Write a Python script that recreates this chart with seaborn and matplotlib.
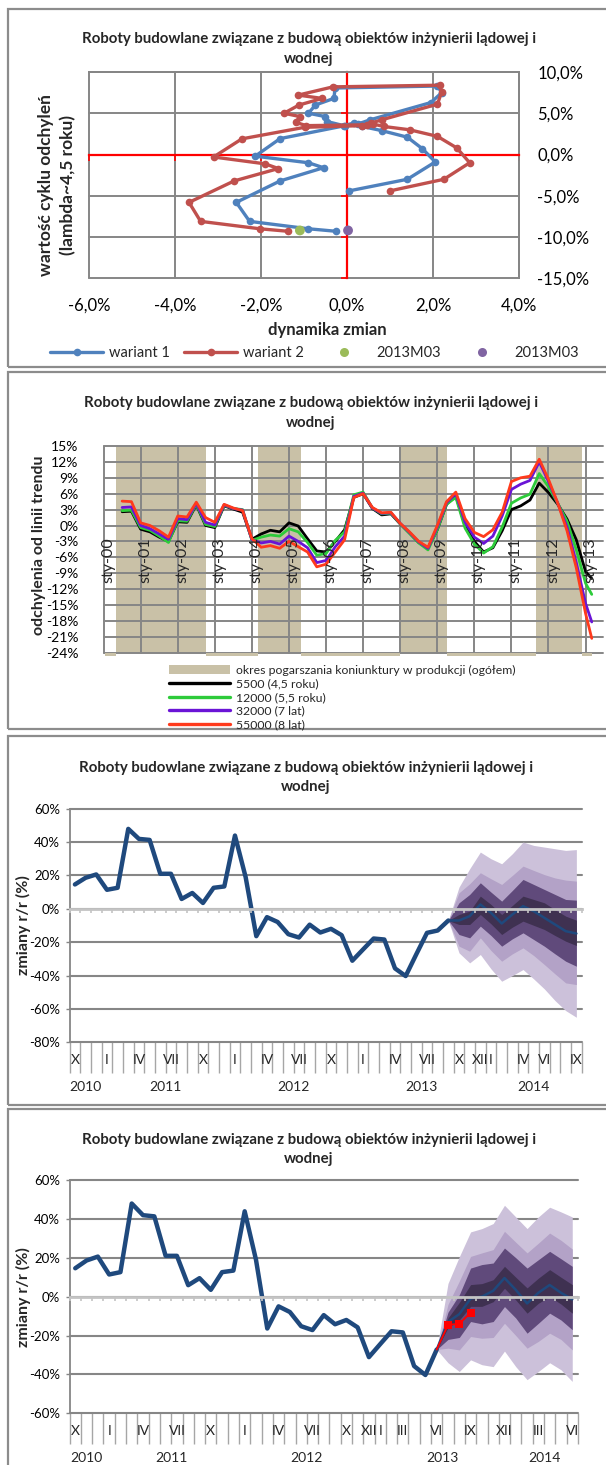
import numpy as np
import pandas as pd
import matplotlib
matplotlib.use("Agg")
import matplotlib.pyplot as plt
import matplotlib.transforms as mtransforms
from matplotlib.patches import Rectangle, Patch
from matplotlib.lines import Line2D
import seaborn as sns

# ------------------------------------------------------------------ data
TITLE_1 = "Roboty budowlane związane z budową obiektów inżynierii lądowej i"
TITLE_2 = "wodnej"

# Panel 1 - cycle chart (x: dynamika zmian %, y: wartość cyklu %)
w1_x = [0.05, 1.40, 2.05, 1.75, 1.40, 0.80, 0.35, 0.15, -0.08, -0.47, -0.51, -0.90,
        -0.74, -0.31, -0.28, 2.10, 2.20, 1.95, 0.53, 0.25, -0.05, -1.56, -2.14,
        -0.90, -0.55, -1.56, -2.58, -2.27, -0.90, -0.26]
w1_y = [-4.40, -3.00, -0.90, 0.70, 2.10, 2.90, 3.40, 3.80, 3.50, 4.00, 4.60, 5.00,
        6.00, 6.80, 8.06, 8.30, 7.50, 6.30, 4.20, 3.70, 3.50, 1.93, -0.20,
        -1.00, -1.60, -3.20, -5.80, -8.10, -9.00, -9.30]
w2_x = [1.00, 2.25, 2.85, 2.55, 2.10, 1.45, 0.85, 0.60, 0.45, -0.95, -1.20, -1.10,
        -1.47, -1.12, -0.58, -1.14, -0.33, 2.15, 2.20, 2.10, 0.80, 0.55, 0.35,
        -0.99, -2.45, -3.11, -1.91, -1.60, -2.63, -3.68, -3.41, -2.03, -1.38]
w2_y = [-4.40, -3.00, -1.00, 0.80, 2.20, 3.00, 3.40, 3.70, 3.60, 3.50, 3.90, 4.60,
        5.00, 6.00, 6.80, 7.20, 8.20, 8.40, 7.60, 6.10, 4.20, 3.80, 3.50,
        3.30, 1.90, -0.30, -1.13, -1.70, -3.20, -5.80, -8.10, -9.00, -9.30]
pt_green_x, pt_green_y = [-1.10], [-9.20]
pt_purple_x, pt_purple_y = [0.02], [-9.20]
p1_legend = ["wariant 1", "wariant 2", "2013M03", "2013M03"]
p1_xticks = [-6, -4, -2, 0, 2, 4]
p1_xlabels = ["-6,0%", "-4,0%", "-2,0%", "0,0%", "2,0%", "4,0%"]
p1_yticks = [-15, -10, -5, 0, 5, 10]
p1_ylabels = ["-15,0%", "-10,0%", "-5,0%", "0,0%", "5,0%", "10,0%"]

# Panel 2 - deviations from trend (quarterly readings, Jul 2000 .. Mar 2013)
p2_dates = list(pd.date_range("2000-07-01", "2013-01-01", freq="3MS")) + [pd.Timestamp("2013-03-01")]
s5500 = [2.6, 2.7,
         -0.7, -1.2, -2.2, -3.0, 0.7, 0.6, 3.9, 0.0, -0.4, 3.7, 3.1, 2.5,
         -2.6, -1.6, -0.9, -1.2, 0.5, -0.1, -2.5, -4.8, -5.0, -3.0, -0.8, 5.3,
         6.0, 3.2, 2.0, 2.2, 0.3, -1.4, -3.2, -4.3, -0.8, 4.0, 5.6, 0.0,
         -3.0, -5.0, -4.2, -1.0, 3.0, 3.7, 4.8, 8.0, 6.2, 4.0, 1.2, -2.7,
         -8.7, -10.0]
s12000 = [2.8, 2.9,
          -0.4, -0.9, -2.0, -3.2, 0.9, 0.8, 4.0, 0.2, -0.2, 3.8, 3.2, 3.0,
          -2.8, -2.2, -1.8, -2.0, -0.6, -1.2, -3.2, -5.6, -5.3, -2.8, -1.2, 5.8,
          6.3, 3.3, 2.2, 2.3, 0.3, -1.5, -3.3, -4.6, -0.8, 4.0, 5.3, -0.5,
          -3.5, -5.2, -4.0, -0.3, 4.2, 5.2, 5.9, 9.8, 7.3, 4.2, 0.8, -4.6,
          -10.9, -13.0]
s32000 = [3.4, 3.5,
          0.0, -0.6, -1.6, -2.6, 1.3, 1.1, 4.2, 0.6, 0.1, 3.9, 3.2, 2.9,
          -2.7, -3.3, -3.0, -3.5, -2.0, -3.0, -4.2, -7.0, -6.6, -4.0, -2.0, 5.5,
          6.1, 3.3, 2.3, 2.4, 0.4, -1.3, -3.1, -4.3, -0.3, 4.3, 6.0, 0.6,
          -2.2, -3.4, -2.0, 1.8, 6.8, 7.8, 8.5, 12.0, 8.3, 4.2, -0.3, -7.0,
          -14.7, -18.2]
s55000 = [4.6, 4.5,
          0.5, 0.0, -1.0, -2.2, 1.8, 1.6, 4.4, 1.5, 0.6, 4.0, 3.3, 2.8,
          -2.5, -4.1, -3.8, -4.3, -3.0, -4.0, -5.0, -7.8, -7.3, -5.0, -2.7, 5.3,
          6.0, 3.4, 2.4, 2.5, 0.4, -1.2, -3.0, -4.1, 0.0, 4.5, 6.3, 1.3,
          -1.3, -2.1, -0.8, 2.5, 8.3, 9.0, 9.3, 12.5, 8.7, 4.2, -1.0, -8.0,
          -16.6, -21.3]
p2_names = ["5500 (4,5 roku)", "12000 (5,5 roku)", "32000 (7 lat)", "55000 (8 lat)"]
p2_colors = ["#000000", "#2DCB3A", "#6A14D6", "#FF3A1C"]
p2_shade_label = "okres pogarszania koniunktury w produkcji (ogółem)"
p2_recessions = [("2000-05", "2002-09"), ("2004-03", "2005-04"),
                 ("2008-01", "2009-03"), ("2011-09", "2012-11")]
p2_sty_years = list(range(2000, 2014))
p2_yticks = list(range(-24, 16, 3))

# Panel 3 / 4 - y/y changes with fan chart (months from Oct 2010)
hist_vals = [14.6, 18.6, 20.6, 11.4, 12.6, 47.9, 41.9, 41.3, 21.0, 21.0, 5.9, 9.5,
             3.5, 12.6, 13.4, 43.9, 19.0, -16.4, -5.0, -7.9, -15.2, -17.2, -9.5, -14.2,
             -12.0, -15.8, -31.1, -24.4, -17.8, -18.4, -35.7, -40.3, -27.2, -14.4, -13.0, -7.0]

p3_n_months = 48
p3_fan_start = 35
p3_med  = [-7.0, -7.0, -4.4, 2.6, -2.4, -8.8, -3.4, 1.6, -1.4, -5.4, -9.4, -13.4, -14.8]
p3_d_up = [-7.0, -3.4, -1.4, 7.6, 2.6, -3.4, 2.0, 7.6, 5.6, 3.6, -0.5, -4.4, -6.8]
p3_d_lo = [-7.0, -9.4, -9.4, -3.4, -9.0, -15.4, -11.0, -7.4, -9.9, -12.4, -16.0, -19.4, -22.0]
p3_t_up = [-7.0, 3.6, 8.6, 15.6, 10.0, 4.6, 11.0, 17.6, 14.6, 11.6, 8.6, 5.6, 5.2]
p3_t_lo = [-7.0, -15.4, -17.4, -10.4, -16.0, -22.4, -18.0, -14.4, -18.4, -22.4, -27.0, -31.4, -34.4]
p3_s_up = [-7.0, 9.6, 15.0, 21.6, 18.0, 14.6, 20.0, 25.6, 23.0, 20.5, 18.5, 17.2, 16.6]
p3_s_lo = [-7.0, -22.4, -25.4, -17.4, -25.0, -31.4, -27.0, -23.4, -28.0, -33.4, -39.0, -44.4, -45.4]
p3_o_up = [-7.0, 13.0, 24.0, 34.0, 30.0, 27.0, 33.0, 40.0, 38.0, 37.0, 36.0, 35.0, 35.5]
p3_o_lo = [-7.0, -26.4, -32.4, -27.4, -36.0, -43.4, -40.0, -36.4, -42.0, -48.0, -55.0, -61.0, -65.0]
p3_month_labels = {0: "X", 3: "I", 6: "IV", 9: "VII", 12: "X", 15: "I", 18: "IV", 21: "VII",
                   24: "X", 27: "I", 30: "IV", 33: "VII", 36: "X", 38: "XII", 39: "I",
                   42: "IV", 44: "VI", 47: "IX"}
p3_years = [("2010", 0, 3), ("2011", 3, 15), ("2012", 15, 27), ("2013", 27, 39), ("2014", 39, 48)]

p4_n_months = 45
p4_hist_len = 33
p4_fan_start = 32
p4_med  = [-27.2, -13.0, -9.0, -1.0, 0.0, 3.0, 9.6, 3.5, -3.5, 2.0, 6.0, 2.0, -1.4]
p4_d_up = [-27.2, -11.0, -3.0, 6.2, 6.7, 8.7, 15.6, 10.0, 4.5, 9.5, 13.9, 10.0, 6.2]
p4_d_lo = [-27.2, -16.0, -12.0, -5.0, -5.0, -2.6, 4.3, -1.7, -8.5, -3.4, 0.0, -3.8, -8.5]
p4_t_up = [-27.2, -8.0, 1.0, 14.7, 16.5, 17.3, 25.0, 20.0, 14.7, 19.0, 23.3, 19.5, 15.6]
p4_t_lo = [-27.2, -22.0, -21.0, -12.8, -14.0, -12.8, -5.1, -11.0, -18.8, -13.7, -8.5, -12.0, -17.0]
p4_s_up = [-27.2, -4.0, 8.0, 20.7, 22.5, 24.2, 33.6, 28.0, 22.5, 27.5, 32.7, 29.0, 24.5]
p4_s_lo = [-27.2, -26.5, -27.4, -20.5, -21.4, -21.0, -13.7, -20.0, -26.5, -23.0, -18.8, -22.0, -27.4]
p4_o_up = [-27.2, 6.8, 20.5, 33.3, 35.0, 37.6, 47.0, 41.0, 35.0, 41.0, 46.0, 43.6, 41.0]
p4_o_lo = [-27.2, -34.0, -38.5, -32.5, -35.0, -36.0, -28.0, -36.0, -42.7, -38.5, -34.0, -37.6, -43.6]
p4_actual_months = [32, 33, 34, 35]
p4_actual_vals = [-27.2, -14.5, -14.0, -8.2]
p4_month_labels = {0: "X", 3: "I", 6: "IV", 9: "VII", 12: "X", 15: "I", 18: "IV", 21: "VII",
                   24: "X", 26: "XII", 27: "I", 29: "III", 32: "VI", 35: "IX", 38: "XII",
                   41: "III", 44: "VI"}
p4_years = [("2010", 0, 3), ("2011", 3, 15), ("2012", 15, 27), ("2013", 27, 39), ("2014", 39, 45)]

# ------------------------------------------------------------------ style
sns.set_theme(style="white")
plt.rcParams["font.family"] = ["Lato", "DejaVu Sans"]
plt.rcParams["axes.unicode_minus"] = False

W, H = 606, 1465
fig = plt.figure(figsize=(W / 100, H / 100), dpi=100)
fig.patch.set_facecolor("white")

GRID = "#868686"
BORDER = "#8C8C8C"
SEP = "#A6A6A6"
C_BLUE, C_RED, C_GREEN, C_PURPLE = "#4F81BD", "#C0504D", "#9BBB59", "#8064A2"
C_TAN = "#C9C1A7"
C_NAVY = "#1F497D"
FAN_COLORS = ["#CCC1DA", "#B3A2C7", "#604A7B", "#3F3151"]


def fig_ax(l, t, r, b):
    return fig.add_axes([l / W, 1 - b / H, (r - l) / W, (b - t) / H])


def ftext(x, y, s, **kw):
    return fig.text(x / W, 1 - y / H, s, **kw)


def title(cx, y1, y2):
    ftext(cx, y1, TITLE_1, ha="center", va="center", fontsize=10.8, fontweight="bold")
    ftext(cx, y2, TITLE_2, ha="center", va="center", fontsize=10.8, fontweight="bold")


# panel borders
for (t, b) in [(9, 367), (372, 729), (736, 1105), (1109, 1480)]:
    fig.add_artist(Rectangle((8 / W, 1 - b / H), (W + 30) / W, (b - t) / H,
                             transform=fig.transFigure, fill=False, ec=BORDER, lw=1.6))

# ------------------------------------------------------------------ panel 1
title(309, 39, 59)
ax1 = fig_ax(89.3, 72, 519.1, 278.3)
sns.lineplot(x=w1_x, y=w1_y, sort=False, estimator=None, color=C_BLUE, lw=2.4,
             marker="o", markersize=5.5, markeredgewidth=0, ax=ax1, zorder=3)
sns.lineplot(x=w2_x, y=w2_y, sort=False, estimator=None, color=C_RED, lw=2.4,
             marker="o", markersize=5.5, markeredgewidth=0, ax=ax1, zorder=4)
sns.scatterplot(x=pt_green_x, y=pt_green_y, color=C_GREEN, s=50, edgecolor="none", ax=ax1, zorder=5)
sns.scatterplot(x=pt_purple_x, y=pt_purple_y, color=C_PURPLE, s=50, edgecolor="none", ax=ax1, zorder=5)
ax1.set_xlim(-6, 4)
ax1.set_ylim(-15, 10)
ax1.set_xticks(p1_xticks)
ax1.set_yticks(p1_yticks)
ax1.grid(True, color=GRID, lw=1.4, clip_on=False)
ax1.set_axisbelow(True)
ax1.tick_params(axis="both", which="major", bottom=True, left=True, labelbottom=False, labelleft=False,
                direction="out", length=4, width=1.2, color="#FF0000")
for s in ["left", "bottom"]:
    ax1.spines[s].set_position(("data", 0))
    ax1.spines[s].set_color("#FF0000")
    ax1.spines[s].set_linewidth(1.6)
for s in ["top", "right"]:
    ax1.spines[s].set_color(GRID)
    ax1.spines[s].set_linewidth(1.4)
ax1.set_xlabel("")
ax1.set_ylabel("")
sx1 = ax1.secondary_xaxis("bottom")
sx1.set_xticks(p1_xticks, labels=p1_xlabels)
sx1.tick_params(length=0, pad=14, labelsize=12, colors="#000000")
sx1.spines["bottom"].set_visible(False)
sy1 = ax1.secondary_yaxis("right")
sy1.set_yticks(p1_yticks, labels=p1_ylabels)
sy1.tick_params(length=0, pad=13, labelsize=12, colors="#000000")
sy1.spines["right"].set_visible(False)
ftext(327, 330, "dynamika zmian", ha="center", va="center", fontsize=12, fontweight="bold")
ftext(57, 185, "wartość cyklu odchyleń\n(lambda~4,5 roku)", ha="center", va="center",
      rotation=90, fontsize=12.5, fontweight="bold", linespacing=1.4)
h1 = [Line2D([], [], color=C_BLUE, lw=2.4, marker="o", markersize=5.5, mew=0),
      Line2D([], [], color=C_RED, lw=2.4, marker="o", markersize=5.5, mew=0),
      Line2D([], [], ls="none", marker="o", color=C_GREEN, markersize=6.5, mew=0),
      Line2D([], [], ls="none", marker="o", color=C_PURPLE, markersize=6.5, mew=0)]
fig.legend(h1, p1_legend, loc="center", bbox_to_anchor=(314.5 / W, 1 - 353 / H), ncol=4,
           frameon=False, fontsize=10.5, handlelength=3.6, handletextpad=0.4,
           columnspacing=1.0, borderpad=0, borderaxespad=0, numpoints=1)

# ------------------------------------------------------------------ panel 2
title(311, 403, 423)
ax2 = fig_ax(103.6, 446, 603, 652.7)


def dec_year(ts):
    ts = pd.Timestamp(ts)
    return ts.year + (ts.month - 1) / 12.0


t2 = [dec_year(d) for d in p2_dates]
long2 = pd.DataFrame({
    "t": t2 * 4,
    "v": s5500 + s12000 + s32000 + s55000,
    "series": sum([[n] * len(t2) for n in p2_names], []),
})
x_lo, x_hi = 2000.0, 2013.47
spans = [(dec_year(a), dec_year(b) + 1 / 12.0) for a, b in p2_recessions]
for a, b in spans:
    ax2.axvspan(a, b, color=C_TAN, lw=0, zorder=0.5)
gap_edges = [x_lo + 0.04] + [v for ab in spans for v in ab] + [t2[-1]]
for a, b in zip(gap_edges[0::2], gap_edges[1::2]):
    ax2.axvspan(a, b, ymin=-0.016, ymax=0.0, color=C_TAN, lw=0, clip_on=False)
sns.lineplot(data=long2, x="t", y="v", hue="series", hue_order=p2_names, palette=p2_colors,
             lw=2.0, legend=False, estimator=None, sort=False, ax=ax2, zorder=3)
ax2.set_xlim(x_lo, x_hi)
ax2.set_ylim(-24, 15)
ax2.set_xticks(p2_sty_years)
ax2.set_yticks(p2_yticks, labels=[f"{v}%" for v in p2_yticks])
ax2.grid(True, color=GRID, lw=1.4, clip_on=False)
ax2.tick_params(axis="x", bottom=False, labelbottom=False)
ax2.tick_params(axis="y", left=False, labelsize=10, pad=12, colors="#000000")
for s in ax2.spines.values():
    s.set_visible(False)
ax2.set_xlabel("")
ax2.set_ylabel("")
for yr in p2_sty_years:
    ax2.text(yr + 0.12, -2.3, f"sty-{yr % 100:02d}", rotation=90, ha="center", va="top",
             fontsize=11.5, zorder=5)
ftext(39, 545, "odchylenia od linii trendu", ha="center", va="center", rotation=90,
      fontsize=11.5, fontweight="bold")
h2 = [Patch(facecolor=C_TAN, edgecolor="none")] + [Line2D([], [], color=c, lw=2.4) for c in p2_colors]
fig.legend(h2, [p2_shade_label] + p2_names, loc="upper left", bbox_to_anchor=(169 / W, 1 - 665 / H),
           frameon=False, fontsize=8.8, handlelength=5.0, handletextpad=0.45, labelspacing=0.2,
           borderpad=0, borderaxespad=0)


# ------------------------------------------------------------------ panels 3/4
def fan_panel(ax, n, ylo, yhi, hist, fan_start, med, ups, los, mlabels, years, mrow_y, yrow_y):
    xh = np.arange(len(hist)) + 0.5
    sns.lineplot(x=xh, y=hist, color=C_NAVY, lw=3.2, ax=ax, zorder=3)
    xf = np.arange(fan_start, fan_start + len(med)) + 0.5
    for up, lo, col in zip(ups, los, FAN_COLORS):
        ax.fill_between(xf, lo, up, color=col, lw=0, zorder=2)
    sns.lineplot(x=xf, y=med, color=C_NAVY, lw=1.8, ax=ax, zorder=3)
    ax.set_xlim(0, n)
    ax.set_ylim(ylo, yhi)
    yt = list(range(ylo, yhi + 1, 20))
    ax.set_yticks(yt, labels=[f"{v}%" for v in yt])
    ax.grid(False)
    ax.yaxis.grid(True, color=GRID, lw=1.5, clip_on=False)
    ax.set_axisbelow(True)
    ax.set_xticks(np.arange(n + 1))
    ax.set_xticks([y[1] for y in years] + [years[-1][2]], minor=True)
    ax.tick_params(axis="x", which="major", bottom=True, labelbottom=False, direction="out",
                   length=22, width=1.0, color=SEP)
    ax.tick_params(axis="x", which="minor", bottom=True, labelbottom=False, direction="out",
                   length=38, width=1.0, color=SEP)
    ax.tick_params(axis="y", left=True, direction="out", length=3, width=1.0,
                   labelsize=9.5, pad=4, colors="#000000")
    ax.tick_params(axis="y", color=GRID)
    for s in ["top", "right", "bottom"]:
        ax.spines[s].set_visible(False)
    ax.spines["left"].set_color(GRID)
    ax.spines["left"].set_linewidth(1.3)
    ax.set_xlabel("")
    ax.set_ylabel("")
    zx = ax.secondary_xaxis((0 - ylo) / (yhi - ylo))
    zx.set_alignment("bottom")
    zx.set_xticks(np.arange(n + 1))
    zx.tick_params(axis="x", length=3, width=1.2, color="#C4C4C4", direction="out", labelbottom=False)
    zx.spines["bottom"].set_color("#C4C4C4")
    zx.spines["bottom"].set_linewidth(2.0)
    zx.patch.set_visible(False)
    zx.set_zorder(6)
    tr = mtransforms.blended_transform_factory(ax.transData, fig.transFigure)
    for m, lab in mlabels.items():
        ax.text(m + 0.5, 1 - mrow_y / H, lab, transform=tr, ha="center", va="center", fontsize=10)
    for lab, a, b in years:
        ax.text((a + b) / 2, 1 - yrow_y / H, lab, transform=tr, ha="center", va="center", fontsize=10)


title(306, 768, 787)
ax3 = fig_ax(69.6, 808.7, 581.7, 1042.3)
fan_panel(ax3, p3_n_months, -80, 60, hist_vals, p3_fan_start, p3_med,
          [p3_o_up, p3_s_up, p3_t_up, p3_d_up], [p3_o_lo, p3_s_lo, p3_t_lo, p3_d_lo],
          p3_month_labels, p3_years, 1060, 1087)
ftext(23, 925, "zmiany r/r (%)", ha="center", va="center", rotation=90, fontsize=11.5, fontweight="bold")

title(309, 1140, 1159)
ax4 = fig_ax(69.6, 1180, 577.9, 1413.3)
fan_panel(ax4, p4_n_months, -60, 60, hist_vals[:p4_hist_len], p4_fan_start, p4_med,
          [p4_o_up, p4_s_up, p4_t_up, p4_d_up], [p4_o_lo, p4_s_lo, p4_t_lo, p4_d_lo],
          p4_month_labels, p4_years, 1431, 1458)
sns.lineplot(x=np.array(p4_actual_months) + 0.5, y=p4_actual_vals, color="#FF0000", lw=1.3,
             marker="s", markersize=6, markeredgewidth=0, markevery=[1, 2, 3], ax=ax4, zorder=7)
ax4.set_xlabel("")
ax4.set_ylabel("")
ftext(23, 1297, "zmiany r/r (%)", ha="center", va="center", rotation=90, fontsize=11.5, fontweight="bold")

fig.savefig("out.png", dpi=100, facecolor="white")
